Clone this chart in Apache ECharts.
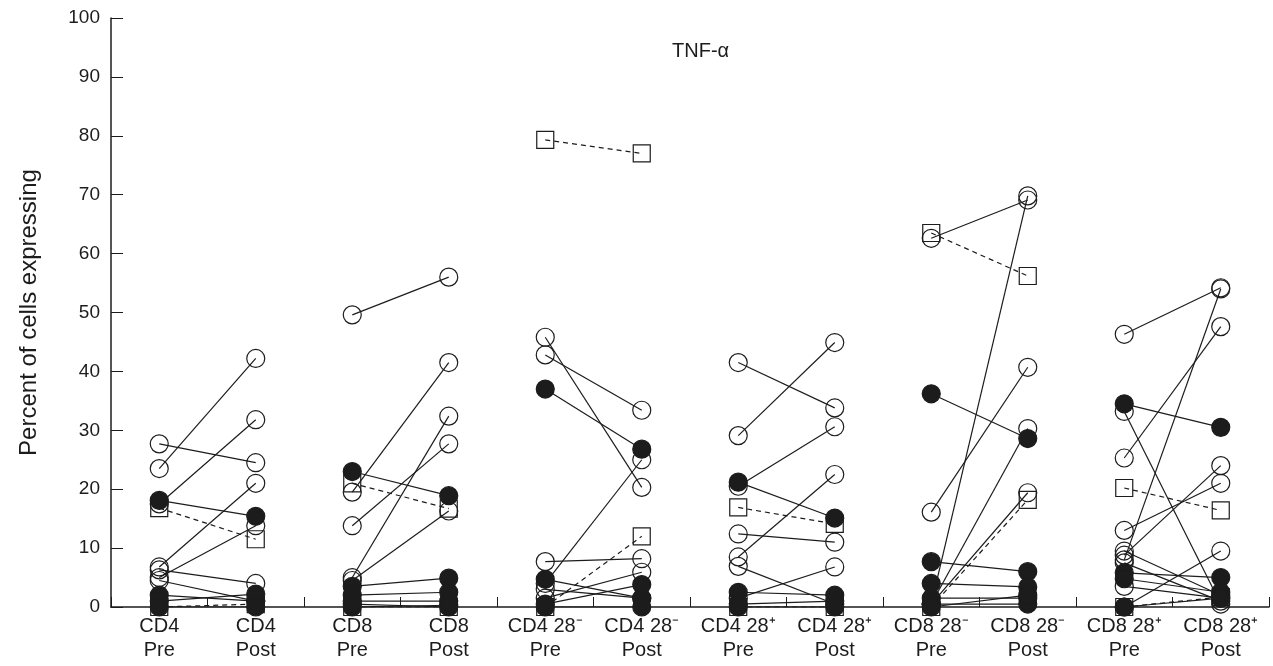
<!DOCTYPE html>
<html>
<head>
<meta charset="utf-8">
<script src="https://cdn.jsdelivr.net/npm/echarts@6/dist/echarts.min.js"></script>
<style>
html,body{margin:0;padding:0;background:#fff;}
#chart{width:1273px;height:666px;}
</style>
</head>
<body>
<div id="chart"></div>
<script>
// ---- categories & tick labels ----
const categories = ['CD4\nPre','CD4\nPost','CD8\nPre','CD8\nPost','CD4 28⁻\nPre','CD4 28⁻\nPost','CD4 28⁺\nPre','CD4 28⁺\nPost','CD8 28⁻\nPre','CD8 28⁻\nPost','CD8 28⁺\nPre','CD8 28⁺\nPost'];
const yTicks = [0,10,20,30,40,50,60,70,80,90,100];
const titleText = 'TNF-α';
const yName = 'Percent of cells expressing';

// ---- CD4 ----
const cd4OpenPre     = [27.7, 23.5, 17.5, 6.8, 5.0, 6.3, 4.5];
const cd4OpenPost    = [24.5, 42.2, 31.8, 21.0, 13.8, 4.0, 1.0];
const cd4FilledPre   = [18.1, 2.0, 1.0, 0.0];
const cd4FilledPost  = [15.4, 1.0, 2.2, 0.0];
const cd4SquarePre   = [16.8, 0.0];
const cd4SquarePost  = [11.5, 0.5];

// ---- CD8 ----
const cd8OpenPre     = [49.6, 19.5, 13.8, 5.0, 4.5];
const cd8OpenPost    = [56.0, 41.5, 27.7, 32.4, 16.3];
const cd8FilledPre   = [23.0, 3.5, 2.0, 1.0, 0.0, 0.5];
const cd8FilledPost  = [18.9, 4.9, 2.5, 1.0, 0.3, 0.0];
const cd8SquarePre   = [21.0, 0.0];
const cd8SquarePost  = [16.7, 0.0];

// ---- CD4 28- ----
const cd4nOpenPre    = [45.8, 42.8, 7.7, 1.5, 3.0, 4.0];
const cd4nOpenPost   = [20.3, 33.4, 8.2, 5.9, 1.5, 25.0];
const cd4nFilledPre  = [37.0, 4.7, 0.5, 0.0];
const cd4nFilledPost = [26.8, 1.5, 3.8, 0.0];
const cd4nSquarePre  = [79.3, 0.0];
const cd4nSquarePost = [77.0, 12.0];

// ---- CD4 28+ ----
const cd4pOpenPre    = [41.5, 29.1, 20.5, 8.5, 12.4, 6.9, 1.5];
const cd4pOpenPost   = [33.8, 44.9, 30.6, 22.5, 11.0, 0.5, 6.8];
const cd4pFilledPre  = [21.2, 2.5, 0.5, 0.0];
const cd4pFilledPost = [15.1, 2.0, 1.0, 0.0];
const cd4pSquarePre  = [16.9, 0.0];
const cd4pSquarePost = [14.1, 0.0];

// ---- CD8 28- ----
const cd8nOpenPre    = [62.6, 0.5, 16.1, 0.5, 0.5];
const cd8nOpenPost   = [69.1, 69.8, 40.7, 30.3, 19.4];
const cd8nFilledPre  = [36.2, 7.7, 4.0, 1.5, 0.5, 0.0];
const cd8nFilledPost = [28.6, 6.0, 3.4, 1.5, 0.5, 2.0];
const cd8nSquarePre  = [63.5, 0.0];
const cd8nSquarePost = [56.2, 18.2];

// ---- CD8 28+ ----
const cd8pOpenPre    = [46.3, 33.2, 25.3, 13.0, 8.8, 8.0, 9.5, 7.5, 3.5, 0.0];
const cd8pOpenPost   = [54.2, 0.5, 47.6, 21.0, 24.0, 54.0, 2.0, 1.0, 1.5, 9.5];
const cd8pFilledPre  = [34.5, 5.8, 4.8, 0.0];
const cd8pFilledPost = [30.5, 5.0, 2.5, 1.5];
const cd8pSquarePre  = [20.2, 0.0];
const cd8pSquarePost = [16.4, 1.7];

const groups = [
  {open:[cd4OpenPre,cd4OpenPost], filled:[cd4FilledPre,cd4FilledPost], square:[cd4SquarePre,cd4SquarePost]},
  {open:[cd8OpenPre,cd8OpenPost], filled:[cd8FilledPre,cd8FilledPost], square:[cd8SquarePre,cd8SquarePost]},
  {open:[cd4nOpenPre,cd4nOpenPost], filled:[cd4nFilledPre,cd4nFilledPost], square:[cd4nSquarePre,cd4nSquarePost]},
  {open:[cd4pOpenPre,cd4pOpenPost], filled:[cd4pFilledPre,cd4pFilledPost], square:[cd4pSquarePre,cd4pSquarePost]},
  {open:[cd8nOpenPre,cd8nOpenPost], filled:[cd8nFilledPre,cd8nFilledPost], square:[cd8nSquarePre,cd8nSquarePost]},
  {open:[cd8pOpenPre,cd8pOpenPost], filled:[cd8pFilledPre,cd8pFilledPost], square:[cd8pSquarePre,cd8pSquarePost]}
];

const INK = '#1c1c1c';
const FONT = 'Liberation Sans, Arial, Helvetica, sans-serif';
const styles = {
  square: {symbol:'rect', size:17, fill:'rgba(0,0,0,0)', dash:[5,4], z:2},
  open:   {symbol:'circle', size:18, fill:'rgba(0,0,0,0)', dash:'solid', z:3},
  filled: {symbol:'circle', size:18, fill:INK, dash:'solid', z:4}
};

const series = [];
groups.forEach((g, gi) => {
  const xPre = gi * 2, xPost = gi * 2 + 1;
  ['square','open','filled'].forEach(kind => {
    const st = styles[kind];
    const [pre, post] = g[kind];
    pre.forEach((v, i) => {
      series.push({
        type: 'line',
        data: [[xPre, v], [xPost, post[i]]],
        symbol: st.symbol,
        symbolSize: st.size,
        showSymbol: true,
        z: st.z,
        itemStyle: {color: st.fill, borderColor: INK, borderWidth: 1.2},
        lineStyle: {color: INK, width: 1.2, type: st.dash},
        emphasis: {disabled: true},
        silent: true
      });
    });
  });
});

const chart = echarts.init(document.getElementById('chart'), null, {renderer:'canvas'});
chart.setOption({
  animation: false,
  backgroundColor: '#fff',
  title: {
    text: titleText,
    left: 667, top: 36,
    textStyle: {fontFamily: FONT, fontWeight:'normal', fontSize:20, color:INK}
  },
  grid: {left: 111, right: 4, top: 18, bottom: 59, containLabel: false},
  xAxis: {
    type: 'category',
    data: categories,
    boundaryGap: true,
    axisLine: {lineStyle: {color: INK, width: 1.5}},
    axisTick: {show: true, inside: true, length: 10, lineStyle: {color: INK, width: 1}},
    axisLabel: {
      interval: 0, margin: 7, color: INK,
      fontFamily: FONT, fontSize: 20, lineHeight: 24
    },
    splitLine: {show: false}
  },
  yAxis: {
    type: 'value',
    min: yTicks[0], max: yTicks[yTicks.length-1], interval: 10,
    name: yName,
    nameLocation: 'middle',
    nameGap: 70,
    nameTextStyle: {fontFamily: FONT, fontSize: 24, color: INK},
    axisLine: {show: true, lineStyle: {color: INK, width: 1.5}},
    axisTick: {show: true, inside: true, length: 12, lineStyle: {color: INK, width: 1}},
    axisLabel: {margin: 11, color: INK, fontFamily: FONT, fontSize: 19},
    splitLine: {show: false}
  },
  series: series
});
</script>
</body>
</html>
